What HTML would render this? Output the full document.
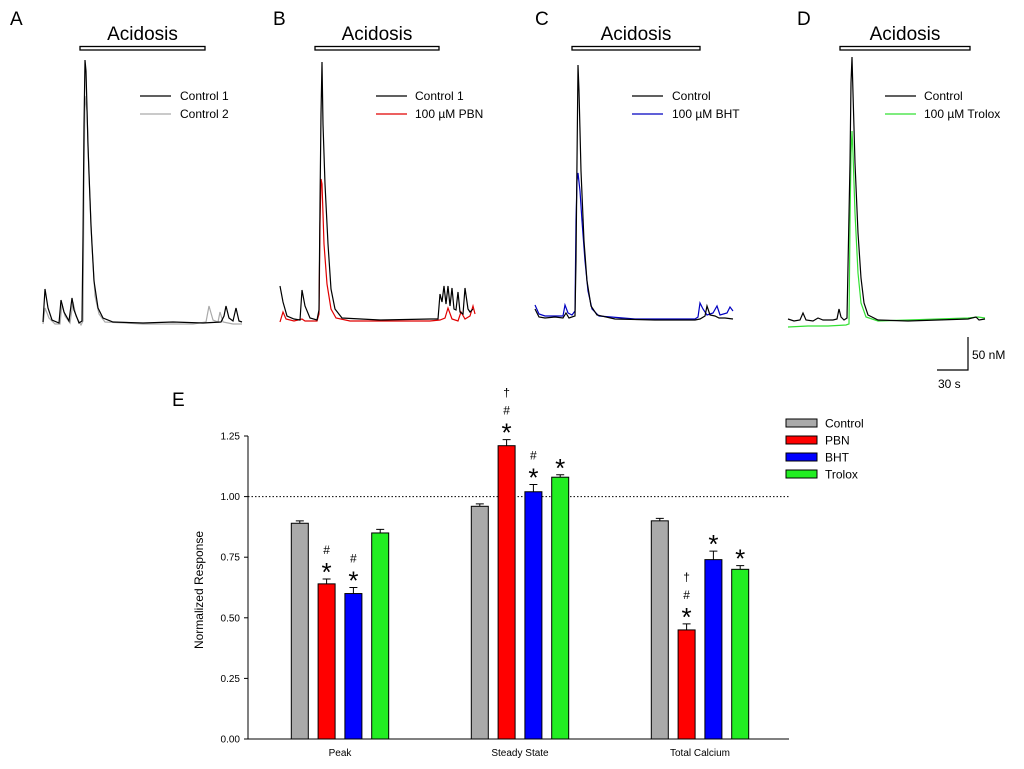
<!DOCTYPE html>
<html><head><meta charset="utf-8"><style>
html,body{margin:0;padding:0;background:#fff;}
svg{display:block;font-family:"Liberation Sans",Arial,sans-serif;}
</style></head><body>
<svg id="fig" width="1024" height="769" viewBox="0 0 1024 769">
<g id="traces"></g>
<g id="bars"></g>
</svg>
<script>
// ---------- Trace data (time t in ~s-pixels, value v in ~nM-pixels above baseline) ----------
const panelLetters = ["A","B","C","D"];
const panelX0 = [43, 280, 535, 788];
const panelBase = [326, 324, 321, 323];
const legendLabels = [["Control 1","Control 2"],["Control 1","100 \u00b5M PBN"],["Control","100 \u00b5M BHT"],["Control","100 \u00b5M Trolox"]];
const traceColors = [["#000","#aaa"],["#000","#e00000"],["#000","#0000c0"],["#000","#33e033"]];
const traceA1 = [[0,4],[2,37],[5,18],[9,6],[16,3],[18,26],[21,14],[26,5],[29,28],[31,16],[36,3],[39,5],[40,90],[41,200],[42,266],[43,255],[45,180],[48,100],[51,45],[55,18],[60,8],[70,4],[100,3],[130,4],[160,3],[178,4],[181,10],[183,20],[186,8],[190,5],[193,18],[196,5],[199,4]];
const traceA2 = [[0,2],[2,18],[6,8],[12,2],[17,2],[19,22],[22,10],[27,3],[30,24],[33,10],[38,1],[40,5],[41,150],[42,230],[44,215],[46,150],[49,80],[52,30],[56,12],[62,4],[100,2],[150,2],[163,4],[166,20],[170,6],[175,4],[177,14],[180,4],[190,2],[199,2]];
const traceB1 = [[0,38],[3,22],[7,8],[14,5],[20,4],[22,34],[25,18],[30,6],[37,4],[39,14],[40,120],[41,210],[42,262],[43,200],[45,140],[48,80],[51,35],[55,15],[62,6],[100,4],[150,5],[158,5],[160,30],[162,22],[164,38],[166,20],[168,38],[170,18],[172,36],[174,15],[176,14],[178,32],[180,12],[183,10],[185,36],[188,15],[190,12],[193,15]];
const traceB2 = [[0,2],[3,12],[6,5],[14,3],[22,5],[25,3],[37,3],[39,10],[40,100],[41,145],[42,140],[44,80],[47,40],[51,15],[56,6],[70,3],[100,3],[150,3],[160,4],[165,6],[168,16],[172,5],[178,3],[181,12],[185,5],[190,8],[193,18],[195,10]];
const traceC1 = [[0,12],[4,4],[10,3],[20,4],[28,3],[31,8],[34,3],[40,5],[41,60],[42,160],[43,256],[44,230],[46,150],[49,80],[52,40],[56,15],[62,6],[80,2],[120,1],[160,1],[165,2],[170,5],[172,15],[175,6],[180,5],[184,3],[190,3],[198,2]];
const traceC2 = [[0,16],[4,7],[10,5],[20,5],[28,5],[30,16],[33,8],[37,6],[40,10],[41,100],[42,140],[43,148],[45,130],[47,100],[50,60],[53,30],[57,12],[64,5],[100,2],[160,2],[163,4],[165,18],[168,12],[172,6],[178,8],[182,15],[185,6],[192,8],[195,14],[198,10]];
const traceD1 = [[0,4],[6,2],[12,3],[15,10],[18,3],[25,2],[30,5],[35,3],[45,3],[49,4],[51,14],[53,6],[56,3],[59,5],[62,160],[63,240],[64,266],[65,230],[67,160],[70,90],[73,45],[76,20],[80,8],[90,3],[120,2],[150,3],[180,4],[188,6],[191,3],[197,4]];
const traceD2 = [[0,-4],[20,-3],[40,-3],[58,-2],[61,-1],[62,100],[63,170],[64,192],[65,170],[67,110],[70,50],[73,20],[78,6],[90,2],[120,3],[150,4],[180,5],[190,6],[197,5]];
const traceData = [[traceA1,traceA2],[traceB1,traceB2],[traceC1,traceC2],[traceD1,traceD2]];

// ---------- Bar chart data ----------
const categories = ["Peak","Steady State","Total Calcium"];
const seriesNames = ["Control","PBN","BHT","Trolox"];
const seriesColors = ["#aaaaaa","#ff0000","#0000ff","#22ee22"];
const controlVals = [0.89, 0.96, 0.90];
const pbnVals = [0.64, 1.21, 0.45];
const bhtVals = [0.60, 1.02, 0.74];
const troloxVals = [0.85, 1.08, 0.70];
const controlErr = [0.01, 0.01, 0.01];
const pbnErr = [0.02, 0.025, 0.025];
const bhtErr = [0.025, 0.03, 0.035];
const troloxErr = [0.015, 0.01, 0.015];
const yTicks = [0, 0.25, 0.5, 0.75, 1.0, 1.25];
const yTickLabels = ["0.00","0.25","0.50","0.75","1.00","1.25"];
const annotations = [[[],["*","#"],["*","#"],[]],[[],["*","#","\u2020"],["*","#"],["*"]],[[],["*","#","\u2020"],["*"],["*"]]];

const NS = "http://www.w3.org/2000/svg";
function mk(tag, attrs, parent, text){
  const e = document.createElementNS(NS, tag);
  for (const k in attrs) e.setAttribute(k, attrs[k]);
  if (text !== undefined) e.textContent = text;
  parent.appendChild(e);
  return e;
}
const tr = document.getElementById("traces");
for (let p = 0; p < 4; p++){
  const g = mk("g", {}, tr);
  
  
  const x0 = panelX0[p], base = panelBase[p];
  const lab = mk("text", {x: [10, 273, 535, 797][p], y: 25, "font-size": 19}, g, panelLetters[p]);
  
  
  const bx = [80, 315, 572, 840][p], bw = [125, 124, 128, 130][p];
  const bar = mk("rect", {x: bx, y: 46.5, width: bw, height: 3.5, fill: "#fff", stroke: "#000", "stroke-width": 1.3}, g);
  
  
  const at = mk("text", {x: bx + bw/2, y: 40, "font-size": 19, "text-anchor": "middle"}, g, "Acidosis");
  
  
  const xs = t => x0 + t, ys = v => base - v;
  for (let s = 1; s >= 0; s--){
    const pts = traceData[p][s].map(d => xs(d[0]).toFixed(1) + "," + ys(d[1]).toFixed(1)).join(" ");
    const pl = mk("polyline", {points: pts, fill: "none", stroke: traceColors[p][s], "stroke-width": 1.2}, g);
    
    
  }
  const lx = [140, 376, 632, 885][p], ltx = [180, 415, 672, 924][p];
  for (let s = 0; s < 2; s++){
    const y = 96 + s*18;
    const ll = mk("line", {x1: lx, x2: lx + 31, y1: y, y2: y, stroke: traceColors[p][s], "stroke-width": 1.3}, g);
    
    
    const lt = mk("text", {x: ltx, y: y + 4, "font-size": 12}, g, legendLabels[p][s]);
    
    
  }
}
// scale bar
const sb = mk("g", {}, tr);


mk("polyline", {points: "968,337 968,370 937,370", fill: "none", stroke: "#000", "stroke-width": 1.2}, sb);
mk("text", {x: 972, y: 359, "font-size": 12}, sb, "50 nM");
mk("text", {x: 938, y: 388, "font-size": 12}, sb, "30 s");

// ---------- bar chart ----------
const bg = document.getElementById("bars");
const axL = 248, axR = 789, y0px = 739, pxPerUnit = 242.4;
const groupCenters = [340, 520, 700];
const yS = v => y0px - v * pxPerUnit;
const xS = (c, s) => groupCenters[c] + (s - 1.5) * 26.8;
const vals = [controlVals, pbnVals, bhtVals, troloxVals];
const errs = [controlErr, pbnErr, bhtErr, troloxErr];
const el = mk("text", {x: 172, y: 406, "font-size": 19}, bg, "E");


const ref = mk("line", {x1: axL, x2: axR, y1: yS(1), y2: yS(1), stroke: "#000", "stroke-dasharray": "1.5,2", "stroke-width": 1}, bg);


const annOffsets = [0, 24, 42];
for (let c = 0; c < 3; c++){
  for (let s = 0; s < 4; s++){
    const v = vals[s][c], e = errs[s][c], cx = xS(c, s);
    const r = mk("rect", {x: cx - 8.5, y: yS(v), width: 17, height: yS(0) - yS(v), fill: seriesColors[s], stroke: "#000", "stroke-width": 1}, bg);
    
    
    const eb = mk("path", {d: `M${cx},${yS(v)} V${yS(v+e)} M${cx-4},${yS(v+e)} H${cx+4}`, stroke: "#000", "stroke-width": 1, fill: "none"}, bg);
    
    
    const an = annotations[c][s];
    for (let k = 0; k < an.length; k++){
      const isStar = an[k] === "*";
      const ty = yS(v + e) - 1 - annOffsets[k] + (isStar ? 3 : 0);
      const a = mk("text", {x: cx, y: ty, "font-size": isStar ? 26 : 12, "text-anchor": "middle"}, bg, an[k]);
      
      
    }
  }
  const cl = mk("text", {x: groupCenters[c], y: 756, "font-size": 10, "text-anchor": "middle"}, bg, categories[c]);
  
  
}
const ax = mk("path", {d: `M${axL},${yS(1.25)} V${y0px} H${axR}`, stroke: "#000", "stroke-width": 1, fill: "none"}, bg);


for (let i = 0; i < yTicks.length; i++){
  const y = yS(yTicks[i]);
  mk("line", {x1: axL - 4, x2: axL, y1: y, y2: y, stroke: "#000"}, bg);
  const t = mk("text", {x: axL - 8, y: y + 3.5, "font-size": 10, "text-anchor": "end"}, bg, yTickLabels[i]);
  
  
}
const yt = mk("text", {x: 203, y: 590, "font-size": 12, "text-anchor": "middle", transform: "rotate(-90 203 590)"}, bg, "Normalized Response");


for (let s = 0; s < 4; s++){
  const y = 423 + s*17;
  const sw = mk("rect", {x: 786, y: y - 4, width: 31, height: 8, fill: seriesColors[s], stroke: "#000", "stroke-width": 1}, bg);
  
  
  const lt = mk("text", {x: 825, y: y + 4.5, "font-size": 12}, bg, seriesNames[s]);
  
  
}
</script>
</body></html>
